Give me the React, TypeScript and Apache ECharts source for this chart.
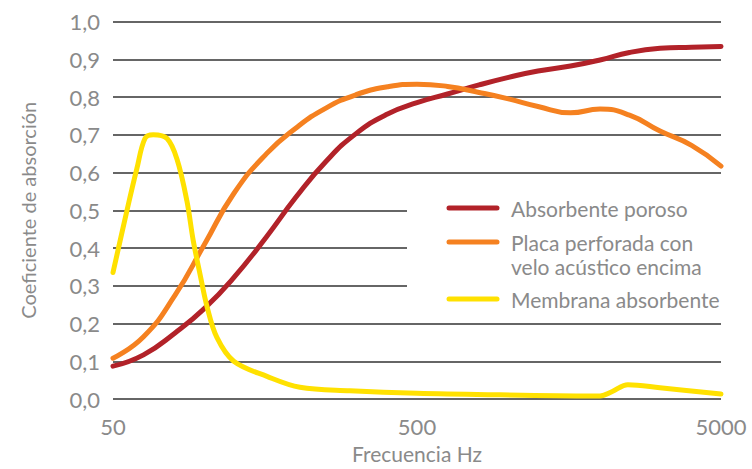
import React, { useEffect, useRef } from "react";
import * as echarts from "echarts";

const seriesNames = [
  "Absorbente poroso",
  "Placa perforada con\nvelo acústico encima",
  "Membrana absorbente",
];
const seriesColors = ["#B22229", "#F58120", "#FFE100"];

const freqPoroso = [50, 63, 80, 100, 125, 160, 200, 250, 315, 400, 500, 630, 800, 1000, 1250, 1600, 2000, 2500, 3150, 4000, 5000];
const valPoroso = [0.087, 0.117, 0.175, 0.24, 0.322, 0.43, 0.535, 0.628, 0.703, 0.755, 0.785, 0.808, 0.832, 0.852, 0.869, 0.882, 0.898, 0.918, 0.929, 0.932, 0.934];

const freqPlaca = [50, 63, 80, 100, 125, 160, 200, 250, 315, 400, 500, 630, 800, 1000, 1250, 1600, 2000, 2500, 3150, 4000, 5000];
const valPlaca = [0.108, 0.165, 0.275, 0.41, 0.545, 0.65, 0.718, 0.77, 0.806, 0.827, 0.834, 0.828, 0.812, 0.795, 0.775, 0.758, 0.768, 0.752, 0.71, 0.672, 0.617];

const freqMembrana = [50, 55.6, 59.9, 63.7, 67.8, 75.3, 81.2, 87.5, 91.8, 96.7, 101.9, 109.8, 124.8, 160.5, 206, 301, 500, 937, 2000, 2195, 2470, 3150, 5000];
const valMembrana = [0.335, 0.5, 0.61, 0.69, 0.7, 0.69, 0.635, 0.525, 0.42, 0.33, 0.245, 0.163, 0.1, 0.06, 0.031, 0.022, 0.015, 0.011, 0.008, 0.02, 0.038, 0.03, 0.013];

const seriesSmooth = [0.5, 0.5, 0.35];

const xTickValues = [50, 500, 5000];
const yMin = 0;
const yMax = 1;
const yInterval = 0.1;

const xAxisTitle = "Frecuencia Hz";
const yAxisTitle = "Coeficiente de absorción";

const FONT = "Lato, 'Open Sans', sans-serif";
const TEXT_COLOR = "#8a8a8a";

export default function App() {
  const ref = useRef<HTMLDivElement>(null);
  useEffect(() => {
    if (!ref.current) return;
    const chart = echarts.init(ref.current, undefined, { renderer: "svg" });
    const freqs = [freqPoroso, freqPlaca, freqMembrana];
    const vals = [valPoroso, valPlaca, valMembrana];

    const legendY = [208, 242, 299];
    const graphic: any[] = [
      {
        type: "rect",
        z: 50,
        shape: { x: 407, y: 186, width: 330, height: 130 },
        style: { fill: "#ffffff" },
      },
    ];
    seriesNames.forEach((name, i) => {
      graphic.push({
        type: "line",
        z: 51,
        shape: { x1: 449, y1: legendY[i], x2: 497, y2: legendY[i] },
        style: { stroke: seriesColors[i], lineWidth: 5, lineCap: "round" },
      });
      graphic.push({
        type: "text",
        z: 51,
        x: 511,
        y: legendY[i] - 12,
        style: {
          text: name,
          fill: TEXT_COLOR,
          fontFamily: FONT,
          fontSize: 21,
          lineHeight: 24,
          verticalAlign: "top",
          align: "left",
        },
      });
    });

    chart.setOption({
      animation: false,
      backgroundColor: "#ffffff",
      grid: { left: 113, right: 31, top: 21.5, bottom: 67, containLabel: false },
      xAxis: {
        type: "log",
        logBase: 10,
        min: 50,
        max: 5000,
        name: xAxisTitle,
        nameLocation: "middle",
        nameGap: 44,
        nameTextStyle: { color: TEXT_COLOR, fontFamily: FONT, fontSize: 21 },
        axisLine: { show: false },
        axisTick: { show: false },
        splitLine: { show: false },
        minorSplitLine: { show: false },
        axisLabel: {
          customValues: xTickValues,
          color: TEXT_COLOR,
          fontFamily: FONT,
          fontSize: 22,
          margin: 16,
          formatter: (v: number) => String(Math.round(v)),
        },
      },
      yAxis: {
        type: "value",
        min: yMin,
        max: yMax,
        interval: yInterval,
        name: yAxisTitle,
        nameLocation: "middle",
        nameGap: 75,
        nameTextStyle: { color: TEXT_COLOR, fontFamily: FONT, fontSize: 20 },
        axisLine: { show: false },
        axisTick: { show: false },
        splitLine: { show: true, lineStyle: { color: "#333333", width: 1.5 } },
        axisLabel: {
          color: TEXT_COLOR,
          fontFamily: FONT,
          fontSize: 22,
          margin: 13,
          formatter: (v: number) => v.toFixed(1).replace(".", ","),
        },
      },
      series: seriesNames.map((name, i) => ({
        name,
        type: "line",
        smooth: seriesSmooth[i],
        showSymbol: false,
        symbol: "none",
        z: 3,
        lineStyle: { color: seriesColors[i], width: 5, cap: "round", join: "round" },
        data: freqs[i].map((f, j) => [f, vals[i][j]]),
      })),
      graphic,
    });
    return () => chart.dispose();
  }, []);
  return (
    <div
      ref={ref}
      style={{ position: "fixed", left: 0, top: 0, width: 752, height: 469 }}
    />
  );
}
